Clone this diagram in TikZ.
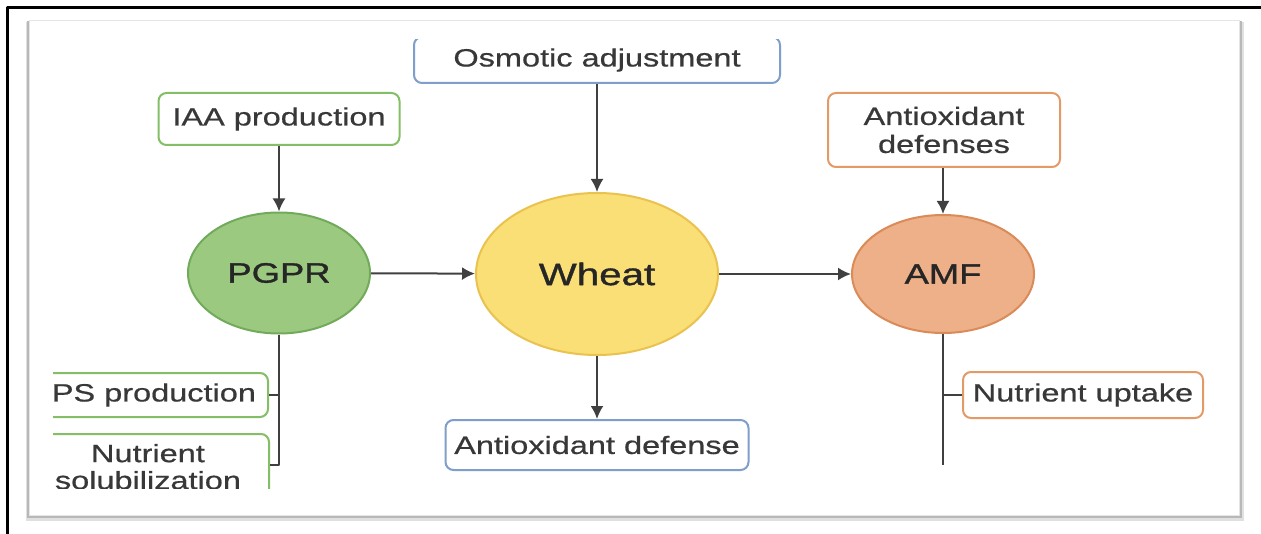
\documentclass[tikz,border=0pt]{standalone}
\usepackage{fontspec}
\setmainfont{Liberation Sans}[FakeStretch=1.3,FakeBold=0.6]
\newfontfamily\hubfont{Liberation Sans}[FakeStretch=1.3,FakeBold=1.2]
\usetikzlibrary{shapes.geometric,arrows.meta}
\definecolor{pgprfill}{HTML}{9CC980}
\definecolor{pgprline}{HTML}{72AA5C}
\definecolor{wheatfill}{HTML}{FADF76}
\definecolor{wheatline}{HTML}{E9C24F}
\definecolor{amffill}{HTML}{EEB088}
\definecolor{amfline}{HTML}{DA8B58}
\definecolor{greenline}{HTML}{84BE66}
\definecolor{blueline}{HTML}{7F9ECA}
\definecolor{orangeline}{HTML}{E39A67}
\begin{document}
\begin{tikzpicture}[x=.5pt,y=-.5pt,line join=round,>={Latex[length=6.5pt,width=6.5pt]},
  lbl/.style={font=\fontsize{12.5}{14}\selectfont,text=black!78,align=center},
  gbox/.style={lbl,draw=greenline,line width=1pt,rounded corners=4pt,fill=white},
  bbox/.style={lbl,draw=blueline,line width=1pt,rounded corners=4pt,fill=white},
  obox/.style={lbl,draw=orangeline,line width=1pt,rounded corners=4pt,fill=white},
  hub/.style={ellipse,line width=1pt,inner sep=0pt,font=\hubfont\fontsize{14}{16}\selectfont,text=black!85},
  link/.style={draw=black!75,line width=1pt},
  arr/.style={link,->}]
\useasboundingbox (0,0) rectangle (1261,534);
% frame and panel
\draw[line width=1.5pt](7,534)--(7,8)--(1261,8);
\fill[black!12](26,22) rectangle (1244,521);
\fill[black!28](27,21) rectangle (1242,518);
\filldraw[fill=white,draw=black!10](29,20) rectangle (1239,515);

\node[hub,fill=pgprfill,draw=pgprline,minimum width=91pt,minimum height=60.5pt] (pgpr) at (279,273) {PGPR};
\node[hub,fill=wheatfill,draw=wheatline,minimum width=121pt,minimum height=81pt,font=\hubfont\fontsize{15.5}{18}\selectfont] (wheat) at (597,274) {Wheat};
\node[hub,fill=amffill,draw=amfline,minimum width=91pt,minimum height=59pt] (amf) at (943,274) {AMF};

\node[gbox,minimum width=120.5pt,minimum height=26pt] (iaa) at (279,119) {IAA production};
\begin{scope}
  \clip (0,40) rectangle (1261,534);
  \node[bbox,minimum width=183pt,minimum height=23pt] (osm) at (597,60) {Osmotic adjustment};
\end{scope}
\node[bbox,minimum width=151.5pt,minimum height=25pt,inner xsep=2pt] (antiox) at (597,445) {Antioxidant defense};
\node[obox,minimum width=116pt,minimum height=37pt] (antioxs) at (944,130) {Antioxidant\\defenses};
\node[obox,minimum width=120pt,minimum height=23pt] (nut) at (1083,395) {Nutrient uptake};
\begin{scope}
  \clip (53,0) rectangle (1261,488);
  \node[gbox,anchor=east,minimum height=22pt,inner xsep=6pt] (eps) at (269,395) {EPS production};
  \node[gbox,anchor=north east,inner xsep=14pt,inner ysep=5pt,font=\fontsize{12.5}{13.5}\selectfont] (sol) at (270,433) {Nutrient\\solubilization};
\end{scope}
\coordinate (solin) at (sol.east |- 0,465);
\coordinate (amfend) at (943,465);

\draw[arr](iaa)--(pgpr);
\draw[arr](osm)--(wheat);
\draw[arr](wheat)--(antiox);
\draw[arr](pgpr)--(wheat);
\draw[arr](wheat)--(amf);
\draw[arr](antioxs.south -| amf)--(amf);
\draw[link](pgpr)|-(solin);
\draw[link](eps)--(eps -| pgpr);
\draw[link](amf)--(amfend);
\draw[link](nut)--(nut -| amf);
\end{tikzpicture}
\end{document}
